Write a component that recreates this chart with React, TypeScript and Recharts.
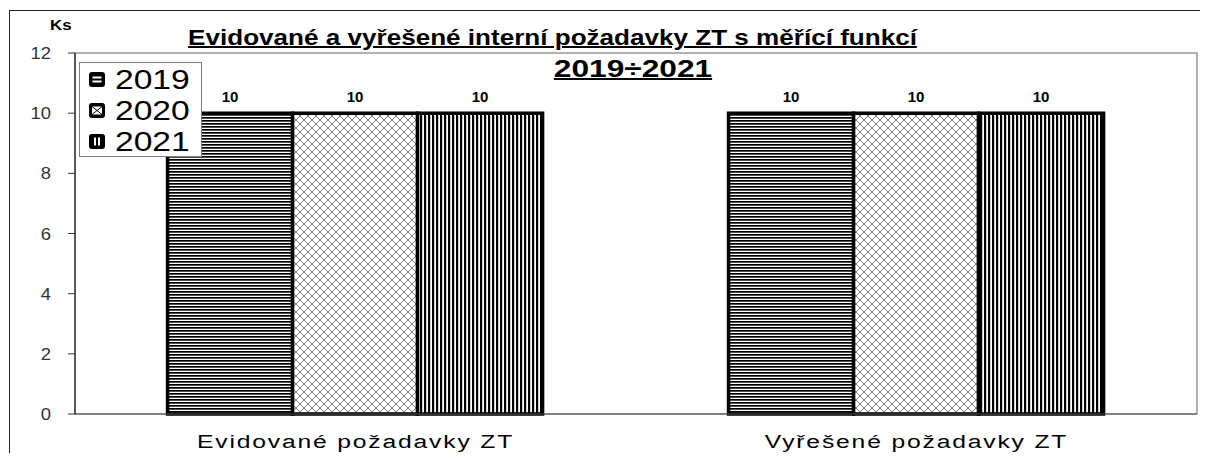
import React from 'react';
import { BarChart, Bar, XAxis, YAxis, LabelList, ReferenceArea } from 'recharts';

const categories = ['Evidované požadavky ZT', 'Vyřešené požadavky ZT'];
const years = ['2019', '2020', '2021'];
const values2019 = [10, 10];
const values2020 = [10, 10];
const values2021 = [10, 10];
const yTicks = [0, 2, 4, 6, 8, 10, 12];

const data = categories.map((name, i) => ({
    name,
    y2019: values2019[i],
    y2020: values2020[i],
    y2021: values2021[i],
}));

const FONT = '"Liberation Sans", Arial, sans-serif';

const LegendIcon: React.FC<{ kind: number }> = ({ kind }) => (
    <svg width={16} height={15} style={{ marginRight: 10, flex: 'none' }}>
        <rect x={0} y={0} width={16} height={15} rx={3} fill="#000" />
        {kind === 0 && (
            <>
                <rect x={3.5} y={4.5} width={9} height={2} fill="#fff" />
                <rect x={3.5} y={8.5} width={9} height={2} fill="#fff" />
            </>
        )}
        {kind === 1 && (
            <>
                <rect x={3} y={3.5} width={10} height={8} fill="#fff" />
                <path d="M3 3.5 L13 11.5 M13 3.5 L3 11.5" stroke="#000" strokeWidth={1} />
            </>
        )}
        {kind === 2 && (
            <>
                <rect x={5} y={3.5} width={2} height={8} fill="#fff" />
                <rect x={9} y={3.5} width={2} height={8} fill="#fff" />
            </>
        )}
    </svg>
);

const LegendBox = () => (
    <div
        style={{
            position: 'absolute',
            left: 79,
            top: 62,
            width: 123,
            height: 95,
            border: '1px solid #808080',
            background: '#fff',
            boxSizing: 'border-box',
            padding: '1px 0 0 9px',
        }}
    >
        {years.map((y, i) => (
            <div key={y} style={{ display: 'flex', alignItems: 'center', height: 31 }}>
                <LegendIcon kind={i} />
                <span style={{ fontFamily: FONT, fontSize: 28, lineHeight: '31px', color: '#000', display: 'inline-block', transform: 'scaleX(1.2)', transformOrigin: 'left center' }}>
                    {y}
                </span>
            </div>
        ))}
    </div>
);

const CategoryTick = (props: any) => {
    const { x, y, payload } = props;
    return (
        <g transform={`translate(${x},${y})`}>
            <text
                transform="scale(1.3,1)"
                x={0}
                y={0}
                dy={16}
                textAnchor="middle"
                fontFamily={FONT}
                fontSize={19}
                letterSpacing={1.4}
                fill="#000"
            >
                {payload.value}
            </text>
        </g>
    );
};

const ValueTick = (props: any) => {
    const { x, y, payload } = props;
    return (
        <g transform={`translate(${x},${y})`}>
            <text transform="scale(1.15,1)" x={0} y={0} dy={6} textAnchor="end" fontFamily={FONT} fontSize={16} fill="#333">
                {payload.value}
            </text>
        </g>
    );
};

const App: React.FC = () => {
    return (
        <div style={{ position: 'relative', width: 1208, height: 461, margin: -8, overflow: 'hidden', background: '#fff' }}>
            <div style={{ position: 'absolute', left: 9, top: 10, width: 1300, height: 500, borderLeft: '1px solid #222', borderTop: '1px solid #222' }} />
            <div style={{ position: 'absolute', left: 0, top: 0 }}>
                <BarChart
                    width={1208}
                    height={461}
                    data={data}
                    margin={{ top: 53, right: 11, left: 0, bottom: 17 }}
                    barCategoryGap="16.5%"
                    barGap={0}
                >
                    <defs>
                        <pattern id="p2019" width={6} height={3} patternUnits="userSpaceOnUse">
                            <rect x={0} y={0} width={6} height={3} fill="#fff" />
                            <rect x={0} y={0} width={6} height={1.7} fill="#000" />
                        </pattern>
                        <pattern id="p2020" width={8} height={8} patternUnits="userSpaceOnUse">
                            <rect x={0} y={0} width={8} height={8} fill="#fff" />
                            <path d="M0 0 L8 8 M8 0 L0 8" stroke="#808080" strokeWidth={1} />
                        </pattern>
                        <pattern id="p2021" width={4} height={6} patternUnits="userSpaceOnUse">
                            <rect x={0} y={0} width={4} height={6} fill="#fff" />
                            <rect x={0} y={0} width={2.2} height={6} fill="#000" />
                        </pattern>
                    </defs>
                    <ReferenceArea y1={0} y2={12} fill="none" stroke="#999" strokeWidth={1.5} />
                    <XAxis
                        dataKey="name"
                        height={30}
                        axisLine={{ stroke: '#555' }}
                        tickLine={false}
                        tickSize={6}
                        tickMargin={12}
                        tick={<CategoryTick />}
                    />
                    <YAxis
                        domain={[0, 12]}
                        ticks={yTicks}
                        width={75}
                        tickSize={7}
                        tickMargin={17}
                        axisLine={{ stroke: '#000' }}
                        tickLine={{ stroke: '#333' }}
                        tick={<ValueTick />}
                    />
                    {years.map((y) => (
                        <Bar
                            key={y}
                            dataKey={`y${y}`}
                            name={y}
                            fill={`url(#p${y})`}
                            stroke="#000"
                            strokeWidth={3.5}
                            isAnimationActive={false}
                        >
                            <LabelList
                                dataKey={`y${y}`}
                                position="top"
                                offset={11}
                                fontFamily={FONT}
                                fontSize={15}
                                fontWeight="bold"
                                fill="#000"
                            />
                        </Bar>
                    ))}
                </BarChart>
            </div>
            <div style={{ position: 'absolute', left: 50, top: 17, fontFamily: FONT, fontWeight: 'bold', fontSize: 14, color: '#000', transform: 'scaleX(1.2)', transformOrigin: 'left top' }}>Ks</div>
            <div style={{ position: 'absolute', left: 553, top: 25, width: 0, display: 'flex', justifyContent: 'center', whiteSpace: 'nowrap' }}>
                <span style={{ fontFamily: FONT, fontWeight: 'bold', fontSize: 22, textDecoration: 'underline', textDecorationThickness: 2, color: '#000', display: 'inline-block', transform: 'scaleX(1.185)' }}>
                    Evidované a vyřešené interní požadavky ZT s měřící funkcí
                </span>
            </div>
            <div style={{ position: 'absolute', left: 633, top: 55, width: 0, display: 'flex', justifyContent: 'center', whiteSpace: 'nowrap' }}>
                <span style={{ fontFamily: FONT, fontWeight: 'bold', fontSize: 24, textDecoration: 'underline', textDecorationThickness: 2, color: '#000', display: 'inline-block', transform: 'scaleX(1.32)' }}>
                    2019÷2021
                </span>
            </div>
            <LegendBox />
        </div>
    );
};

export default App;
